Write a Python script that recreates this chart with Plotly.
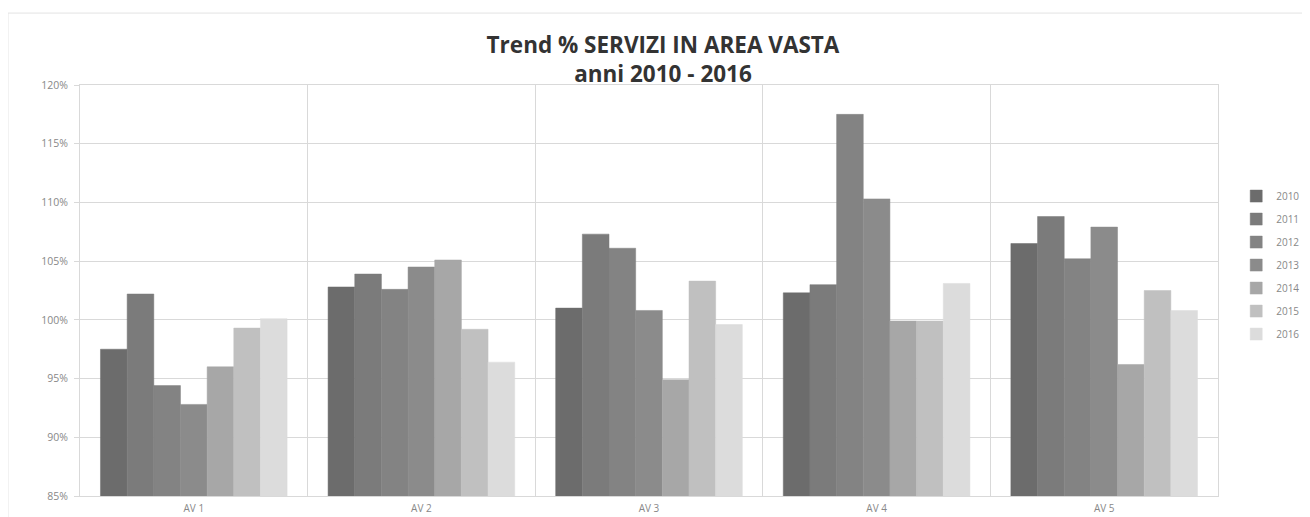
import plotly.graph_objects as go

categories = ["AV 1", "AV 2", "AV 3", "AV 4", "AV 5"]
years = ["2010", "2011", "2012", "2013", "2014", "2015", "2016"]
values = {
    "2010": [97.5, 102.8, 101.0, 102.3, 106.5],
    "2011": [102.2, 103.9, 107.3, 103.0, 108.8],
    "2012": [94.4, 102.6, 106.1, 117.5, 105.2],
    "2013": [92.8, 104.5, 100.8, 110.3, 107.9],
    "2014": [96.0, 105.1, 94.9, 99.9, 96.2],
    "2015": [99.3, 99.2, 103.3, 99.9, 102.5],
    "2016": [100.1, 96.4, 99.6, 103.1, 100.8],
}
colors = ["#6c6c6c", "#7b7b7b", "#838383", "#8b8b8b", "#a7a7a7", "#c0c0c0", "#dcdcdc"]

W, H = 1302, 509  # page body has an 8px margin

fig = go.Figure()
for i, y in enumerate(years):
    fig.add_trace(go.Bar(
        x=categories, y=values[y], name=y, legendgroup=y,
        marker=dict(color=colors[i], line=dict(color=colors[i], width=0.5)),
    ))

fig.update_layout(
    width=W, height=H,
    barmode="group", bargap=0.18, bargroupgap=0,
    plot_bgcolor="white", paper_bgcolor="white",
    margin=dict(l=72, r=92, t=77, b=21, autoexpand=False),
    title=dict(
        text="<b>Trend % SERVIZI IN AREA VASTA<br>anni 2010 - 2016</b>",
        x=655 / W, xanchor="center", xref="container",
        y=1 - 45 / H, yanchor="top", yref="container",
        font=dict(family="Open Sans", size=22.5, color="#333333"),
    ),
    font=dict(family="Open Sans", color="#777777", size=10),
    legend=dict(
        x=1.016, xanchor="left", y=0.765, yanchor="top",
        font=dict(size=10, color="#888888"),
        tracegroupgap=4, bgcolor="rgba(0,0,0,0)", itemwidth=30,
    ),
    showlegend=True,
    shapes=[dict(
        type="rect", xref="paper", yref="paper",
        x0=-0.0633, x1=1.0765, y0=-0.2, y1=1.175,
        line=dict(color="#e3e3e3", width=1), layer="below",
    )],
)
fig.update_xaxes(
    showgrid=True, gridcolor="#d9d9d9", gridwidth=1, tickson="boundaries",
    ticks="", showline=True, linecolor="#d9d9d9", mirror=True,
    tickfont=dict(size=10, color="#888888"), automargin=False,
    ticklabelstandoff=3,
)
fig.update_yaxes(
    range=[85, 120], dtick=5, ticksuffix="%",
    showgrid=True, gridcolor="#d9d9d9", gridwidth=1,
    showline=True, linecolor="#d9d9d9", mirror=True,
    ticks="outside", ticklen=5, tickcolor="#d9d9d9",
    tickfont=dict(size=10.5, color="#888888"), zeroline=False, automargin=False,
    ticklabelstandoff=4,
)
fig.write_html("out.html")
